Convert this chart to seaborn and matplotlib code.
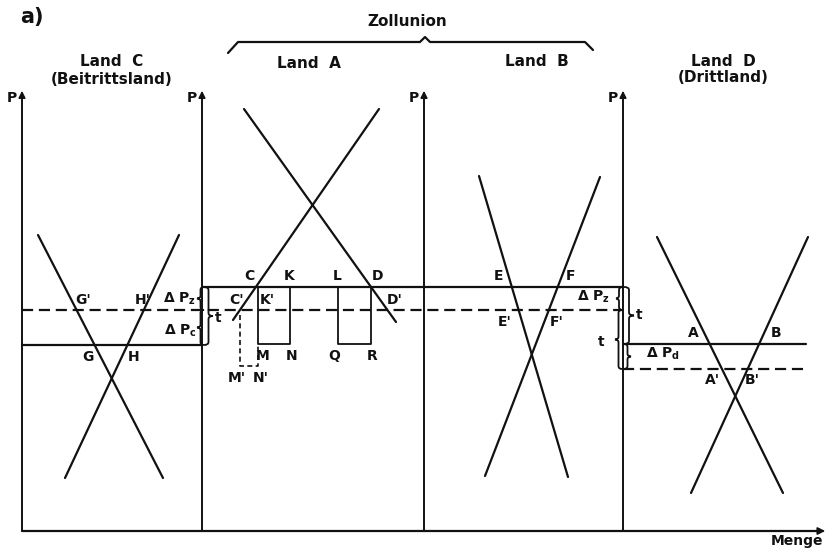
import numpy as np
import pandas as pd
import matplotlib
matplotlib.use("Agg")
import matplotlib.pyplot as plt
from matplotlib.path import Path
from matplotlib.patches import PathPatch
import seaborn as sns

# Diagram coordinates (pixel space of the 828x550 figure, y pointing down)
axis_x = [22, 202, 424, 623]
axis_top = 90
axis_bottom = 531
axis_right = 826

# price levels
p_union = 287      # price in the customs union (solid)
p_union_new = 310  # price after accession (dashed)
p_land_c = 345     # Land C before
p_land_d = 344     # Land D before
p_land_d_new = 369 # Land D after

# supply / demand curves: (x0, y0, x1, y1)
curves = {
    "C_demand": [38, 235, 163, 478],
    "C_supply": [179, 235, 65, 478],
    "A_demand": [244, 109, 396, 322],
    "A_supply": [379, 109, 233, 320],
    "B_demand": [479, 176, 568, 477],
    "B_supply": [600, 177, 485, 476],
    "D_demand": [657, 237, 783, 493],
    "D_supply": [808, 237, 691, 493],
}

# welfare rectangles in Land A (x-positions)
rect_kmn = [258, 290]
rect_lqr = [338, 371]
rect_mn_bottom = 344
rect_dashed_x = 240
rect_dashed_bottom = 366

titles = [
    ("a)", 32, 17, 15),
    ("Zollunion", 407, 22, 11),
    ("Land  C", 112, 62, 11),
    ("(Beitrittsland)", 112, 79, 11),
    ("Land  A", 309, 63, 11),
    ("Land  B", 537, 62, 11),
    ("Land  D", 723, 61, 11),
    ("(Drittland)", 723, 78, 11),
    ("Menge", 797, 541, 10),
]

point_labels = [
    ("G'", 83, 300), ("H'", 143, 300), ("G", 88, 357), ("H", 134, 357),
    ("Δ P$_z$", 180, 299), ("Δ P$_c$", 180, 331), ("t", 218, 318),
    ("C", 249, 276), ("K", 289, 276), ("L", 337, 276), ("D", 378, 276),
    ("C'", 237, 300), ("K'", 267, 300), ("D'", 395, 300),
    ("M", 263, 356), ("N", 292, 356), ("Q", 334, 356), ("R", 372, 356),
    ("M'", 237, 378), ("N'", 261, 378),
    ("E", 499, 276), ("F", 571, 276), ("E'", 505, 322), ("F'", 557, 322),
    ("Δ P$_z$", 594, 297), ("t", 639, 315), ("t", 601, 342), ("Δ P$_d$", 663, 354),
    ("A", 693, 333), ("B", 776, 333), ("A'", 713, 380), ("B'", 752, 380),
]

sns.set_theme(style="white")
plt.rcParams["font.family"] = ["DejaVu Sans"]
plt.rcParams["mathtext.default"] = "bf"

fig = plt.figure(figsize=(8.28, 5.5), dpi=100)
ax = fig.add_axes([0, 0, 1, 1])

K = "#111111"
LW = 1.6
DASH = (5, 2.6)

# axes of the four countries
for x in axis_x:
    ax.plot([x, x], [axis_bottom, axis_top + 6], color=K, lw=1.4)
    ax.annotate("", xy=(x, axis_top - 2), xytext=(x, axis_top + 10),
                arrowprops=dict(arrowstyle="-|>", color=K, lw=1.2, mutation_scale=10))
    ax.text(x - 10, axis_top + 8, "P", ha="center", va="center",
            fontsize=10, fontweight="bold", color=K)
ax.plot([axis_x[0], axis_right - 8], [axis_bottom, axis_bottom], color=K, lw=1.6)
ax.annotate("", xy=(axis_right + 2, axis_bottom), xytext=(axis_right - 12, axis_bottom),
            arrowprops=dict(arrowstyle="-|>", color=K, lw=1.2, mutation_scale=11))

# supply and demand curves drawn through seaborn
rows = []
for name, (x0, y0, x1, y1) in curves.items():
    rows.append({"curve": name, "x": x0, "y": y0})
    rows.append({"curve": name, "x": x1, "y": y1})
df = pd.DataFrame(rows)
sns.lineplot(data=df, x="x", y="y", units="curve", estimator=None, sort=False,
             color=K, lw=LW, ax=ax, legend=False)

# price lines
ax.plot([axis_x[0], axis_x[1]], [p_land_c, p_land_c], color=K, lw=LW)
ax.plot([axis_x[1], axis_x[3]], [p_union, p_union], color=K, lw=LW)
ax.plot([axis_x[0], axis_x[3]], [p_union_new, p_union_new], color=K, lw=LW,
        dashes=DASH)
ax.plot([axis_x[3], 806], [p_land_d, p_land_d], color=K, lw=LW)
ax.plot([axis_x[3], 806], [p_land_d_new, p_land_d_new], color=K, lw=LW, dashes=DASH)

# rectangles in Land A
for xa, xb in [rect_kmn, rect_lqr]:
    ax.plot([xa, xa, xb, xb], [p_union, rect_mn_bottom, rect_mn_bottom, p_union],
            color=K, lw=1.3)
ax.plot([rect_dashed_x, rect_dashed_x, rect_kmn[0], rect_kmn[0]],
        [p_union_new + 5, rect_dashed_bottom, rect_dashed_bottom, rect_mn_bottom],
        color=K, lw=1.2, dashes=(3, 2))


def brace(x, y0, y1, w, direction):
    """Curly brace between y0 and y1 at x, tip pointing left (-1) or right (+1)."""
    d = direction
    ym = (y0 + y1) / 2
    h = w / 2
    verts = [
        (x, y0),
        (x + d * h, y0), (x + d * h, y0 + 3),
        (x + d * h, ym - 3),
        (x + d * h, ym), (x + d * w, ym),
        (x + d * h, ym), (x + d * h, ym + 3),
        (x + d * h, y1 - 3),
        (x + d * h, y1), (x, y1),
    ]
    codes = [Path.MOVETO,
             Path.CURVE3, Path.CURVE3,
             Path.LINETO,
             Path.CURVE3, Path.CURVE3,
             Path.CURVE3, Path.CURVE3,
             Path.LINETO,
             Path.CURVE3, Path.CURVE3]
    ax.add_patch(PathPatch(Path(verts, codes), fill=False, color=K, lw=1.3))


# braces at the Land A axis
brace(204, p_union, p_union_new, 7, -1)
brace(204, p_union_new, p_land_c, 7, -1)
brace(204, p_union, p_land_c, 9, 1)
# braces at the Land D axis
brace(622, p_union, p_union_new, 6, -1)
brace(622, p_union_new, p_land_d_new, 7, -1)
brace(624, p_union, p_land_d, 10, 1)
brace(624, p_land_d, p_land_d_new, 7, 1)

# Zollunion bracket
ax.plot([228, 238, 420, 425, 430, 585, 593], [53, 42, 42, 37, 42, 42, 50],
        color=K, lw=1.6)

for txt, x, y, fs in titles:
    ax.text(x, y, txt, ha="center", va="center", fontsize=fs,
            fontweight="bold", color=K)
for txt, x, y in point_labels:
    ax.text(x, y, txt, ha="center", va="center", fontsize=10,
            fontweight="bold", color=K)

ax.set_xlim(0, 828)
ax.set_ylim(550, 0)
ax.axis("off")

fig.savefig("out.png", dpi=100, facecolor="white")
